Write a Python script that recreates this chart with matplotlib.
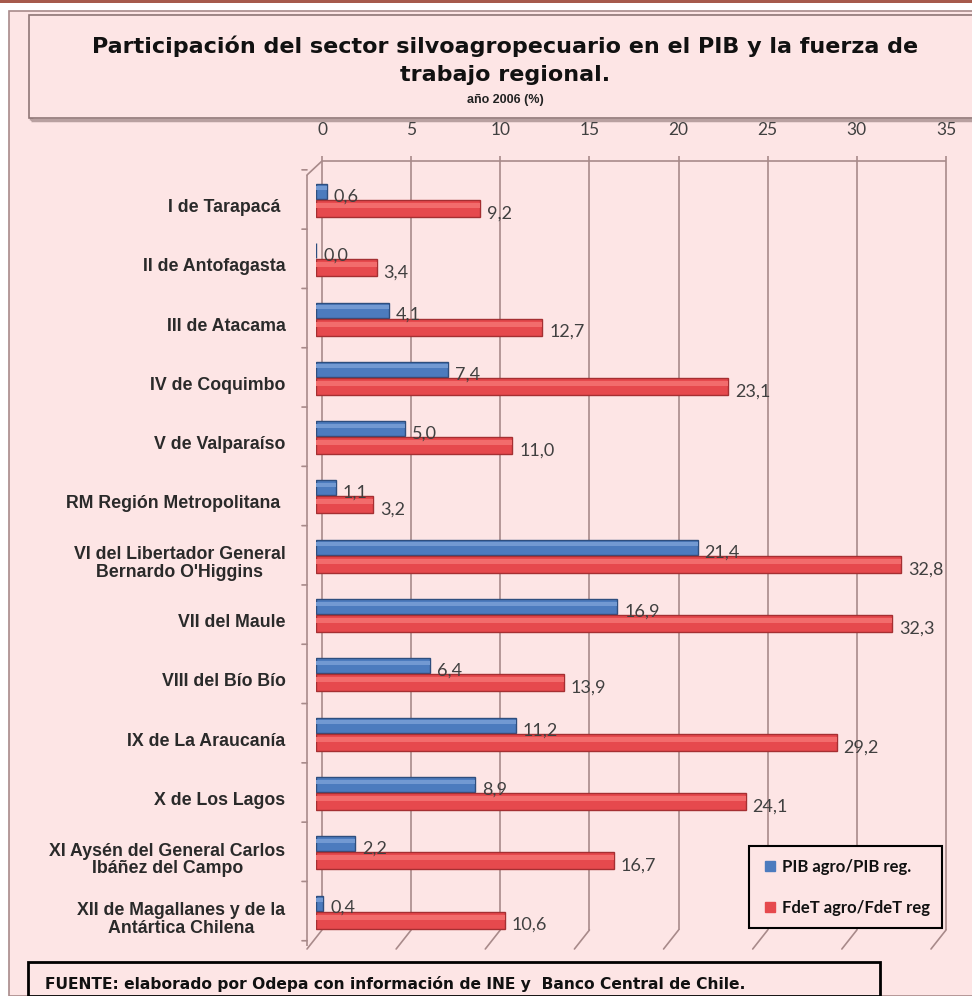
import matplotlib.pyplot as plt
import matplotlib.transforms as mtransforms
from matplotlib.lines import Line2D
from matplotlib.patches import Rectangle

plt.switch_backend("Agg")

REGIONS = [
    "I de Tarapacá ",
    "II de Antofagasta",
    "III de Atacama",
    "IV de Coquimbo",
    "V de Valparaíso",
    "RM Región Metropolitana ",
    "VI del Libertador General\nBernardo O'Higgins",
    "VII del Maule",
    "VIII del Bío Bío",
    "IX de La Araucanía",
    "X de Los Lagos",
    "XI Aysén del General Carlos\nIbáñez del Campo",
    "XII de Magallanes y de la\nAntártica Chilena",
]
PIB_AGRO = [0.6, 0.0, 4.1, 7.4, 5.0, 1.1, 21.4, 16.9, 6.4, 11.2, 8.9, 2.2, 0.4]
FDET_AGRO = [9.2, 3.4, 12.7, 23.1, 11.0, 3.2, 32.8, 32.3, 13.9, 29.2, 24.1, 16.7, 10.6]
X_TICKS = [0, 5, 10, 15, 20, 25, 30, 35]
SERIES_NAMES = ["PIB agro/PIB reg.", "FdeT agro/FdeT reg"]

BG = "#FDE5E5"
BLUE = "#4C7BBE"
BLUE_EDGE = "#2E4E7E"
RED = "#E6494D"
RED_EDGE = "#A52F32"
WALL = "#A88A8A"
TEXT = "#404040"

W, H = 972, 996
fig = plt.figure(figsize=(W / 100, H / 100), dpi=100, facecolor="white")


def fx(px):
    return px / W


def fy(px):
    return 1 - px / H


def box(x0, y0, w, h, **kw):
    fig.patches.append(Rectangle((x0, y0), w, h, transform=fig.transFigure, **kw))


# pink page, brown strip on top
box(fx(9), 0, 1, fy(11), facecolor=BG, edgecolor=WALL, linewidth=1.2, zorder=-10)
box(0, fy(3), 1, 3 / H, facecolor="#A65A4C", edgecolor="none", zorder=-9)

# title box
box(fx(31), fy(120), 1, 104 / H, facecolor="none", edgecolor="#B8A0A0",
    linewidth=2.5, zorder=-8)
box(fx(29), fy(118), 1, 103 / H, facecolor=BG, edgecolor="#8F7777",
    linewidth=1.2, zorder=-7)
fig.text(fx(505), fy(46), "Participación del sector silvoagropecuario en el PIB y la fuerza de",
         ha="center", va="center", fontsize=16, fontweight="bold",
         family="DejaVu Sans", color="#111111")
fig.text(fx(505), fy(75), "trabajo regional.", ha="center", va="center",
         fontsize=16, fontweight="bold", family="DejaVu Sans", color="#111111")
fig.text(fx(505), fy(100), "año 2006 (%)", ha="center", va="center",
         fontsize=9, fontweight="bold", family="Liberation Sans", color="#222222")

# plot area: category i centred at 199.5 + 59.3*i px
ROW = 59.3
Y0 = 199.5
top_px, bot_px = 160, 940
ax = fig.add_axes([fx(316), fy(bot_px), 624 / W, (bot_px - top_px) / H])
ax.set_facecolor("none")
ax.set_xlim(0, 35)
ax.set_ylim((bot_px - Y0) / ROW, (top_px - Y0) / ROW)
for side in ax.spines.values():
    side.set_visible(False)


def shift(dx, dy=0):
    return mtransforms.ScaledTranslation(dx / 100, -dy / 100, fig.dpi_scale_trans)


def to_y(px):
    return (px - Y0) / ROW


def seg(x1, y1, tr1, x2, y2, tr2):
    ax.annotate("", xy=(x2, y2), xytext=(x1, y1), xycoords=tr2, textcoords=tr1,
                arrowprops=dict(arrowstyle="-", color=WALL, linewidth=1.2,
                                shrinkA=0, shrinkB=0), annotation_clip=False)


back = ax.transData + shift(6)
front = ax.transData + shift(-9)

# back wall gridlines, slanted feet toward the front
ax.vlines(X_TICKS, to_y(156), to_y(930), color=WALL, linewidth=1.2, transform=back,
          clip_on=False, zorder=1)
ax.hlines(to_y(161), 0, 35, color=WALL, linewidth=1.2, transform=back,
          clip_on=False, zorder=1)
for v in X_TICKS:
    seg(v, to_y(930), back, v, to_y(949), front)

# left wall with category separators
ax.vlines(0, to_y(175), to_y(946), color=WALL, linewidth=1.2, transform=front,
          clip_on=False, zorder=1)
seg(0, to_y(161), back, 0, to_y(175), front)
for s in [i - 0.5 for i in range(len(REGIONS) + 1)]:
    seg(0, s, front, 0, s, ax.transData + shift(-14))

# bars
pos = list(range(len(REGIONS)))
blue_y = [p - 8 / ROW for p in pos]
red_y = [p + 9 / ROW for p in pos]
ax.barh(blue_y, PIB_AGRO, height=15 / ROW, color=BLUE, edgecolor=BLUE_EDGE,
        linewidth=1.0, zorder=3)
ax.barh([y - 3 / ROW for y in blue_y], PIB_AGRO, height=4 / ROW, color="#7299D2",
        edgecolor="none", zorder=4)
ax.barh(red_y, FDET_AGRO, height=17 / ROW, color=RED, edgecolor=RED_EDGE,
        linewidth=1.0, zorder=3)
ax.barh([y - 3 / ROW for y in red_y], FDET_AGRO, height=5 / ROW, color="#F26C6C",
        edgecolor="none", zorder=4)

label_tr = ax.transData + shift(7)
for y, v in zip(blue_y, PIB_AGRO):
    ax.text(v, y + 5 / ROW, f"{v:.1f}".replace(".", ","), transform=label_tr,
            ha="left", va="center", fontsize=13, family="Lato", color=TEXT, zorder=5)
for y, v in zip(red_y, FDET_AGRO):
    ax.text(v, y + 5 / ROW, f"{v:.1f}".replace(".", ","), transform=label_tr,
            ha="left", va="center", fontsize=13, family="Lato", color=TEXT, zorder=5)

# axis labels
ax.xaxis.tick_top()
ax.set_xticks(X_TICKS)
ax.set_xticklabels([str(t) for t in X_TICKS], fontsize=12.5, family="Lato", color=TEXT)
ax.tick_params(axis="x", length=0, pad=16)
for lbl in ax.get_xticklabels():
    lbl.set_transform(lbl.get_transform() + shift(6))

ax.set_yticks(pos)
ax.set_yticklabels(REGIONS, fontsize=12.8, family="Liberation Sans", fontweight="bold",
                   color="#2A2A2A", linespacing=1.05, multialignment="center")
ax.tick_params(axis="y", length=0, pad=22)
for lbl in ax.get_yticklabels():
    lbl.set_transform(lbl.get_transform() + shift(0, 6))

# legend
handles = [Line2D([], [], marker="s", linestyle="none", markersize=7, color=c)
           for c in (BLUE, RED)]
leg = fig.legend(handles, SERIES_NAMES, loc="upper left",
                 bbox_to_anchor=(fx(749), fy(846)), frameon=True, fancybox=False,
                 facecolor=BG, edgecolor="black", framealpha=1,
                 prop={"family": "Lato", "size": 12, "weight": "bold"},
                 labelspacing=1.5, borderpad=0.75, handletextpad=0.2,
                 handlelength=1.0, borderaxespad=0)
leg.get_frame().set_linewidth(1.5)
for t in leg.get_texts():
    t.set_color("#111111")

# source box
box(fx(28), 0, (880 - 28) / W, fy(962), facecolor=BG, edgecolor="black",
    linewidth=2, zorder=-6)
fig.text(fx(45), fy(984), "FUENTE: elaborado por Odepa con información de INE y  Banco Central de Chile.",
         ha="left", va="center", fontsize=11.2, fontweight="bold",
         family="DejaVu Sans", color="#111111")

fig.savefig("out.png", dpi=100, facecolor="white")
